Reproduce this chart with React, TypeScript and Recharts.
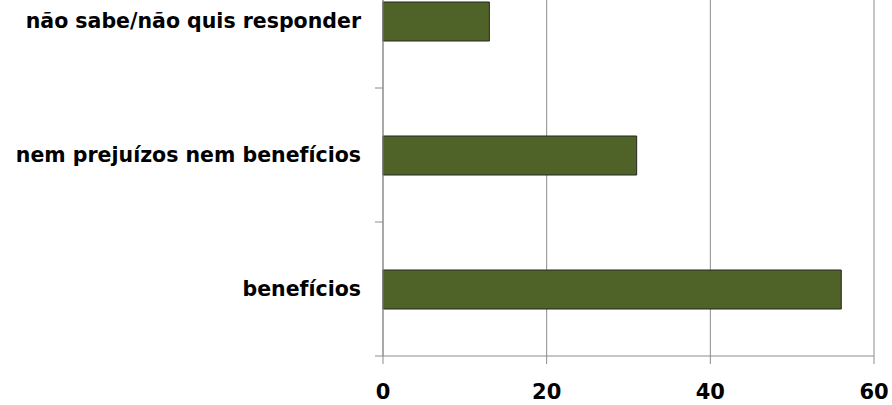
import React from 'react';
import { BarChart, Bar, XAxis, YAxis, CartesianGrid } from 'recharts';

const categories = ['não sabe/não quis responder', 'nem prejuízos nem benefícios', 'benefícios'];
const values = [13, 31, 56];
const xTicks = [0, 20, 40, 60];

const data = categories.map((name, i) => ({ name, value: values[i] }));

const axisColor = '#8c8c8c';
const font = '"DejaVu Sans", Verdana, sans-serif';

// rótulo da categoria + marca no limite inferior da faixa
const CategoryTick = (props: any) => {
  const { x, y, payload } = props;
  const half = payload && payload.offset ? payload.offset : 67;
  return (
    <g>
      <text
        x={x}
        y={y}
        dy="0.35em"
        textAnchor="end"
        fill="#000"
        fontFamily={font}
        fontWeight="bold"
        fontSize={20.5}
      >
        {payload.value}
      </text>
      <line x1={x + 14} x2={x + 22} y1={y + half} y2={y + half} stroke={axisColor} />
    </g>
  );
};

export default function App() {
  return (
    <div style={{ position: 'absolute', left: 0, top: 0, width: 892, height: 405, overflow: 'hidden', background: '#fff' }}>
      <div style={{ position: 'absolute', left: 0, top: -46 }}>
        <BarChart
          width={892}
          height={452}
          data={data}
          layout="vertical"
          margin={{ top: 0, right: 18, bottom: 0, left: 0 }}
        >
          <CartesianGrid vertical horizontal={false} stroke={axisColor} />
          <XAxis
            type="number"
            domain={[0, 60]}
            ticks={xTicks}
            height={50}
            stroke={axisColor}
            tickSize={8}
            tickMargin={20}
            tick={{ fill: '#000', fontFamily: font, fontWeight: 'bold', fontSize: 21 }}
          />
          <YAxis
            type="category"
            dataKey="name"
            width={383}
            stroke={axisColor}
            tickLine={false}
            tickSize={8}
            tickMargin={14}
            tick={<CategoryTick />}
          />
          <Bar dataKey="value" barSize={39} fill="#4F6228" stroke="#262626" strokeWidth={1} isAnimationActive={false} />
        </BarChart>
      </div>
    </div>
  );
}
